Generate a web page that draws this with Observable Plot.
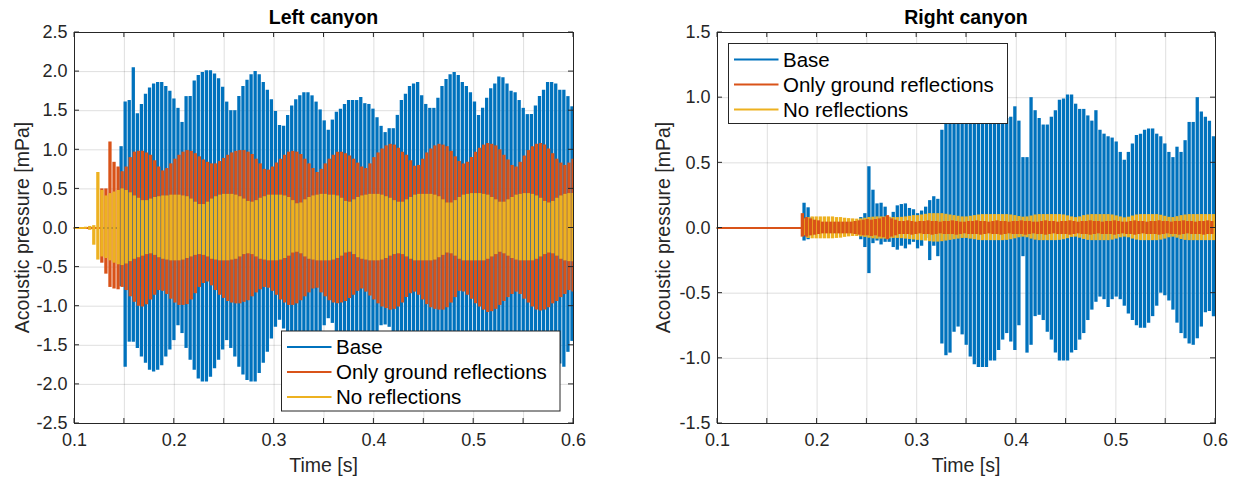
<!DOCTYPE html>
<html><head><meta charset="utf-8">
<script src="https://cdn.jsdelivr.net/npm/d3@7"></script>
<script src="https://cdn.jsdelivr.net/npm/@observablehq/plot@0.6"></script>
<style>
html,body{margin:0;padding:0;background:#fff;}
#wrap{display:flex;width:1234px;height:477px;overflow:hidden;}
#wrap svg{display:block;flex:none;}
</style></head><body><div id="wrap"></div>
<script>
// ---------- data ----------
const seriesNames = ["Base", "Only ground reflections", "No reflections"];
const xDomain = [0.1, 0.6];
const xLabelTicks = [0.1, 0.2, 0.3, 0.4, 0.5, 0.6];
const xGridTicks = [0.1, 0.15, 0.2, 0.25, 0.3, 0.35, 0.4, 0.45, 0.5, 0.55, 0.6];
const leftYTicks = [-2.5, -2, -1.5, -1, -0.5, 0, 0.5, 1, 1.5, 2, 2.5];
const rightYTicks = [-1.5, -1, -0.5, 0, 0.5, 1, 1.5];
const period = 0.00407; // one oscillation cycle [s]

// Left canyon, Base
const leftBaseStart = 0.1467;
const leftBaseHi = [1.04,1.61,1.63,2.05,1.46,1.58,1.71,1.79,1.84,1.86,
 1.86,1.81,1.75,1.65,1.53,1.35,1.68,1.68,1.88,1.95,
 1.99,2.01,2.01,1.97,1.91,1.80,1.61,1.50,1.50,1.68,
 1.81,1.89,1.96,2.00,1.96,1.86,1.76,1.64,1.49,1.31,
 1.30,1.44,1.56,1.64,1.69,1.73,1.73,1.69,1.61,1.51,
 1.37,1.25,1.38,1.48,1.52,1.58,1.63,1.63,1.63,1.67,
 1.59,1.58,1.52,1.41,1.30,1.22,1.27,1.27,1.44,1.63,
 1.71,1.81,1.84,1.86,1.69,1.58,1.53,1.53,1.66,1.81,
 1.90,1.96,1.99,1.95,1.86,1.81,1.73,1.61,1.44,1.53,
 1.66,1.78,1.84,1.93,1.92,1.84,1.75,1.73,1.63,1.53,
 1.45,1.45,1.56,1.68,1.76,1.86,1.86,1.84,1.76,1.76,
 1.68,1.55];
const leftBaseLo = [-0.75,-1.78,-1.46,-1.46,-1.54,-1.65,-1.73,-1.82,-1.84,-1.82,
 -1.76,-1.65,-1.56,-1.44,-1.25,-1.35,-1.54,-1.69,-1.82,-1.93,
 -1.97,-1.97,-1.91,-1.80,-1.69,-1.56,-1.44,-1.54,-1.65,-1.78,
 -1.88,-1.95,-1.97,-1.97,-1.86,-1.73,-1.59,-1.42,-1.27,-1.18,
 -1.29,-1.39,-1.48,-1.54,-1.61,-1.65,-1.63,-1.56,-1.48,-1.39,
 -1.25,-1.16,-1.22,-1.35,-1.45,-1.52,-1.56,-1.60,-1.62,-1.60,
 -1.56,-1.52,-1.45,-1.34,-1.25,-1.24,-1.27,-1.36,-1.52,-1.66,
 -1.74,-1.80,-1.82,-1.76,-1.62,-1.55,-1.52,-1.58,-1.72,-1.84,
 -1.92,-1.96,-1.95,-1.90,-1.82,-1.76,-1.66,-1.52,-1.48,-1.58,
 -1.70,-1.80,-1.88,-1.92,-1.88,-1.80,-1.74,-1.68,-1.58,-1.49,
 -1.44,-1.50,-1.62,-1.72,-1.80,-1.84,-1.82,-1.69,-1.74,-1.78,
 -1.59,-1.45];

// Left canyon, Only ground reflections
const leftGroundStart = 0.1274;
const leftGroundHi = [0.50,0.50,1.10,0.84,0.78,0.72,0.78,0.90,0.97,0.98,
 0.98,0.96,0.93,0.86,0.78,0.73,0.76,0.82,0.88,0.93,
 0.97,0.99,0.98,0.95,0.91,0.87,0.84,0.82,0.82,0.85,
 0.89,0.93,0.96,0.98,0.99,0.99,0.97,0.94,0.88,0.82,
 0.75,0.74,0.78,0.83,0.88,0.93,0.97,0.98,0.97,0.94,
 0.88,0.82,0.76,0.71,0.75,0.82,0.88,0.93,0.97,0.97,
 0.95,0.92,0.88,0.83,0.78,0.76,0.82,0.90,0.96,1.01,
 1.05,1.07,1.06,1.02,0.97,0.93,0.86,0.79,0.80,0.88,
 0.96,1.01,1.05,1.07,1.06,1.04,0.98,0.91,0.85,0.82,
 0.84,0.90,0.97,1.02,1.06,1.08,1.07,1.05,1.00,0.93,
 0.87,0.80,0.78,0.84,0.92,0.99,1.04,1.07,1.08,1.06,
 1.01,0.95,0.88,0.83,0.80,0.83,0.88];
const leftGroundLo = [-0.45,-0.59,-0.76,-0.78,-0.79,-0.76,-0.80,-0.88,-0.95,-1.00,
 -1.01,-0.98,-0.92,-0.86,-0.80,-0.81,-0.85,-0.91,-0.96,-0.99,
 -0.99,-0.98,-0.92,-0.84,-0.76,-0.71,-0.69,-0.74,-0.80,-0.86,
 -0.90,-0.94,-0.96,-0.97,-0.97,-0.95,-0.93,-0.88,-0.83,-0.79,
 -0.76,-0.77,-0.81,-0.86,-0.92,-0.96,-0.99,-0.99,-0.97,-0.93,
 -0.88,-0.83,-0.78,-0.77,-0.83,-0.88,-0.93,-0.96,-0.97,-0.96,
 -0.94,-0.90,-0.86,-0.81,-0.78,-0.82,-0.87,-0.92,-0.97,-1.01,
 -1.03,-1.05,-1.04,-1.01,-0.96,-0.89,-0.84,-0.82,-0.86,-0.92,
 -0.98,-1.02,-1.04,-1.05,-1.05,-1.02,-0.96,-0.89,-0.81,-0.82,
 -0.86,-0.91,-0.97,-1.01,-1.05,-1.08,-1.07,-1.04,-0.99,-0.94,
 -0.89,-0.85,-0.82,-0.85,-0.91,-0.96,-1.01,-1.05,-1.06,-1.05,
 -1.02,-0.97,-0.94,-0.89,-0.85,-0.80,-0.82];

// Left canyon, No reflections
const leftNoneStart = 0.1112;
const leftNoneHi = [0.01,0.02,0.03,
 0.71,0.48,0.41,0.44,0.46,0.48,0.50,0.48,0.45,0.41,
 0.38,0.35,0.35,0.37,0.39,0.40,0.41,0.41,0.42,0.42,
 0.42,0.41,0.40,0.37,0.33,0.30,0.30,0.33,0.37,0.40,
 0.42,0.43,0.43,0.43,0.42,0.40,0.37,0.34,0.33,0.35,
 0.38,0.40,0.42,0.42,0.42,0.42,0.41,0.39,0.35,0.31,
 0.32,0.36,0.39,0.41,0.42,0.43,0.43,0.42,0.42,0.41,
 0.38,0.34,0.33,0.36,0.39,0.41,0.42,0.43,0.43,0.43,
 0.42,0.40,0.38,0.35,0.33,0.33,0.36,0.39,0.42,0.43,
 0.43,0.43,0.43,0.42,0.40,0.36,0.32,0.32,0.35,0.39,
 0.42,0.43,0.44,0.44,0.44,0.43,0.42,0.39,0.36,0.33,
 0.33,0.36,0.39,0.42,0.43,0.44,0.44,0.43,0.41,0.38,
 0.34,0.32,0.34,0.38,0.41,0.43,0.44,0.44];
const leftNoneLo = [-0.01,-0.03,-0.22,
 -0.41,-0.37,-0.39,-0.42,-0.45,-0.47,-0.48,-0.46,-0.43,-0.40,
 -0.38,-0.36,-0.34,-0.33,-0.35,-0.38,-0.40,-0.41,-0.42,-0.42,
 -0.42,-0.41,-0.39,-0.37,-0.35,-0.34,-0.35,-0.37,-0.40,-0.41,
 -0.42,-0.42,-0.42,-0.41,-0.40,-0.37,-0.34,-0.33,-0.34,-0.37,
 -0.40,-0.41,-0.42,-0.42,-0.42,-0.41,-0.39,-0.36,-0.32,-0.31,
 -0.33,-0.37,-0.40,-0.41,-0.42,-0.42,-0.42,-0.42,-0.41,-0.39,
 -0.36,-0.32,-0.31,-0.34,-0.38,-0.40,-0.41,-0.42,-0.42,-0.42,
 -0.41,-0.39,-0.36,-0.34,-0.33,-0.34,-0.37,-0.40,-0.42,-0.42,
 -0.42,-0.42,-0.42,-0.41,-0.38,-0.35,-0.32,-0.33,-0.36,-0.40,
 -0.42,-0.42,-0.42,-0.42,-0.42,-0.42,-0.40,-0.37,-0.34,-0.31,
 -0.33,-0.36,-0.39,-0.41,-0.42,-0.42,-0.42,-0.42,-0.40,-0.37,
 -0.34,-0.32,-0.33,-0.36,-0.40,-0.42,-0.43,-0.43];

// Right canyon, Base
const rightBaseStart = 0.1869;
const rightBaseHi = [0.19,0.155,0.08,0.04,0.04,0.04,0.04,0.04,0.04,0.04,
 0.04,0.04,0.04,0.04,0.08,0.11,0.47,0.29,0.185,0.19,
 0.16,0.08,0.12,0.17,0.18,0.185,0.15,0.14,0.11,0.13,
 0.16,0.21,0.24,0.22,0.75,0.92,0.95,0.90,0.82,0.80,
 0.86,0.94,1.00,1.04,1.05,1.05,1.03,1.00,0.97,0.90,
 0.84,0.85,0.93,0.82,0.54,0.54,1.00,0.90,0.84,0.79,
 0.79,0.85,0.90,0.98,0.99,1.02,1.02,0.95,0.91,0.91,
 0.86,0.82,0.90,0.75,0.72,0.70,0.69,0.66,0.58,0.52,
 0.58,0.645,0.71,0.72,0.75,0.76,0.76,0.72,0.70,0.645,
 0.58,0.54,0.62,0.58,0.67,0.81,0.81,1.00,0.89,0.85,
 0.82,0.70];
const rightBaseLo = [-0.10,-0.09,-0.06,-0.04,-0.04,-0.04,-0.04,-0.04,-0.04,-0.04,
 -0.04,-0.04,-0.04,-0.04,-0.09,-0.15,-0.35,-0.12,-0.10,-0.13,
 -0.11,-0.11,-0.15,-0.17,-0.14,-0.16,-0.13,-0.11,-0.16,-0.14,
 -0.08,-0.25,-0.14,-0.22,-0.89,-0.98,-0.96,-0.80,-0.76,-0.82,
 -0.90,-0.99,-1.05,-1.07,-1.07,-1.07,-1.02,-1.02,-0.94,-0.86,
 -0.81,-0.875,-0.94,-0.75,-0.22,-0.96,-0.90,-0.68,-0.67,-0.71,
 -0.80,-0.86,-0.96,-1.02,-1.02,-1.02,-0.96,-0.94,-0.86,-0.81,
 -0.71,-0.63,-0.57,-0.53,-0.55,-0.61,-0.55,-0.53,-0.55,-0.60,
 -0.66,-0.71,-0.75,-0.77,-0.77,-0.73,-0.68,-0.60,-0.50,-0.52,
 -0.56,-0.63,-0.73,-0.81,-0.85,-0.89,-0.90,-0.85,-0.76,-0.65,
 -0.64,-0.68];

// Right canyon, Only ground reflections
const rightGroundStart = 0.1852;
const rightGroundHi = [0.11,0.08,0.07,0.06,0.055,0.045,0.045,0.045,0.045,0.045,
 0.045,0.045,0.045,0.05,0.055,0.06,0.065,0.06,0.065,0.07,
 0.08,0.095,0.07,0.06,0.05,0.05,0.055,0.05,0.045,0.05,
 0.05,0.055,0.05,0.05,0.045,0.05,0.05,0.055,0.05,0.045,
 0.045,0.05,0.05,0.055,0.05,0.05,0.045,0.05,0.055,0.05,
 0.05,0.045,0.05,0.05,0.055,0.05,0.05,0.045,0.045,0.05,
 0.055,0.05,0.05,0.045,0.05,0.05,0.055,0.05,0.045,0.05,
 0.05,0.055,0.05,0.05,0.045,0.05,0.05,0.055,0.05,0.045,
 0.045,0.05,0.055,0.05,0.05,0.045,0.05,0.05,0.055,0.05,
 0.05,0.045,0.05,0.05,0.055,0.05,0.05,0.045,0.05,0.05,
 0.055,0.05];
const rightGroundLo = [-0.07,-0.07,-0.06,-0.055,-0.05,-0.045,-0.045,-0.045,-0.045,-0.045,
 -0.045,-0.045,-0.045,-0.05,-0.055,-0.06,-0.06,-0.065,-0.06,-0.07,
 -0.075,-0.09,-0.07,-0.06,-0.05,-0.05,-0.05,-0.055,-0.05,-0.045,
 -0.05,-0.05,-0.055,-0.05,-0.045,-0.05,-0.05,-0.05,-0.055,-0.05,
 -0.045,-0.05,-0.05,-0.05,-0.055,-0.05,-0.045,-0.05,-0.05,-0.055,
 -0.05,-0.045,-0.05,-0.05,-0.05,-0.055,-0.05,-0.045,-0.05,-0.05,
 -0.055,-0.05,-0.045,-0.05,-0.05,-0.05,-0.055,-0.05,-0.045,-0.05,
 -0.05,-0.055,-0.05,-0.045,-0.05,-0.05,-0.05,-0.055,-0.05,-0.045,
 -0.05,-0.05,-0.055,-0.05,-0.045,-0.05,-0.05,-0.05,-0.055,-0.05,
 -0.045,-0.05,-0.05,-0.055,-0.05,-0.045,-0.05,-0.05,-0.05,-0.055,
 -0.05,-0.05];

// Right canyon, No reflections
const rightNoneStart = 0.1869;
const rightNoneHi = [0.07,0.08,0.085,0.085,0.085,0.085,0.085,0.085,0.08,0.08,
 0.075,0.072,0.07,0.068,0.07,0.075,0.08,0.083,0.085,0.085,
 0.085,0.083,0.08,0.08,0.082,0.085,0.09,0.095,0.095,0.10,
 0.105,0.11,0.11,0.11,0.11,0.105,0.10,0.095,0.09,0.085,
 0.085,0.09,0.095,0.10,0.103,0.103,0.103,0.103,0.103,0.103,
 0.103,0.10,0.095,0.088,0.083,0.085,0.092,0.10,0.103,0.103,
 0.103,0.103,0.103,0.103,0.10,0.093,0.085,0.08,0.085,0.095,
 0.10,0.103,0.103,0.103,0.103,0.103,0.10,0.093,0.085,0.078,
 0.083,0.092,0.10,0.103,0.103,0.103,0.103,0.103,0.098,0.09,
 0.082,0.08,0.087,0.095,0.10,0.103,0.103,0.103,0.103,0.103,
 0.103,0.103];
const rightNoneLo = [-0.06,-0.08,-0.083,-0.083,-0.083,-0.083,-0.083,-0.083,-0.08,-0.078,
 -0.072,-0.068,-0.065,-0.065,-0.068,-0.072,-0.078,-0.083,-0.085,-0.085,
 -0.085,-0.083,-0.08,-0.08,-0.082,-0.085,-0.088,-0.092,-0.095,-0.098,
 -0.10,-0.105,-0.108,-0.108,-0.105,-0.10,-0.095,-0.09,-0.085,-0.08,
 -0.08,-0.085,-0.09,-0.095,-0.097,-0.097,-0.097,-0.097,-0.097,-0.097,
 -0.095,-0.09,-0.083,-0.075,-0.07,-0.075,-0.085,-0.093,-0.097,-0.097,
 -0.097,-0.097,-0.097,-0.095,-0.09,-0.082,-0.072,-0.07,-0.078,-0.088,
 -0.095,-0.097,-0.097,-0.097,-0.097,-0.097,-0.093,-0.085,-0.075,-0.07,
 -0.075,-0.085,-0.093,-0.097,-0.097,-0.097,-0.097,-0.097,-0.093,-0.085,
 -0.075,-0.07,-0.078,-0.088,-0.095,-0.097,-0.097,-0.097,-0.097,-0.097,
 -0.097,-0.097];

// ---------- rendering ----------
const colors = {base: "#0072BD", ground: "#D95319", none: "#EDB120"};
const legendKeys = ["base", "ground", "none"];
const axisColor = "#262626";
const fontFamily = "'Liberation Sans', Arial, Helvetica, sans-serif";

function cycles(start, hi, lo) {
  return hi.map((h, i) => ({t: start + i * period, hi: h, lo: lo[i]}));
}

function panel(cfg) {
  const {title, yDomain, yTicks, series, drawOrder, width, height,
         marginLeft, marginRight, marginTop, marginBottom, yLabelX, legend} = cfg;
  const marks = [
    Plot.ruleX(xGridTicks, {stroke: axisColor, strokeOpacity: 0.15}),
    Plot.ruleY(yTicks, {stroke: axisColor, strokeOpacity: 0.15})
  ];
  for (const key of drawOrder) {
    const s = series[key];
    marks.push(Plot.line([{t: xDomain[0], v: 0}, {t: s.start, v: 0}],
      {x: "t", y: "v", stroke: colors[key], strokeWidth: 2}));
    marks.push(Plot.ruleX(cycles(s.start, s.hi, s.lo),
      {x: "t", y1: "lo", y2: "hi", stroke: colors[key], strokeWidth: 3.3, clip: true}));
  }
  marks.push(Plot.frame({stroke: axisColor, strokeWidth: 1}));

  const fmt = d => d.toFixed(1);
  const el = Plot.plot({
    width, height, marginLeft, marginRight, marginTop, marginBottom,
    style: {fontFamily, fontSize: "18px", color: axisColor, background: "white", overflow: "visible"},
    x: {domain: xDomain, ticks: xLabelTicks, tickFormat: fmt, tickSize: 0, tickPadding: 10, label: null},
    y: {domain: yDomain, ticks: yTicks, tickFormat: fmt, tickSize: 0, tickPadding: 7, label: null},
    marks
  });

  const svg = d3.select(el);
  const sx = el.scale("x"), sy = el.scale("y");
  const x0 = marginLeft, x1 = width - marginRight, y0 = marginTop, y1 = height - marginBottom;

  // inward ticks on all four sides (MATLAB box style)
  const tg = svg.append("g").attr("stroke", axisColor).attr("stroke-width", 1);
  for (const v of xGridTicks) {
    const x = sx.apply(v);
    tg.append("line").attr("x1", x).attr("x2", x).attr("y1", y1).attr("y2", y1 - 5);
    tg.append("line").attr("x1", x).attr("x2", x).attr("y1", y0).attr("y2", y0 + 5);
  }
  for (const v of yTicks) {
    const y = sy.apply(v);
    tg.append("line").attr("x1", x0).attr("x2", x0 + 5).attr("y1", y).attr("y2", y);
    tg.append("line").attr("x1", x1).attr("x2", x1 - 5).attr("y1", y).attr("y2", y);
  }

  // title and axis labels
  svg.append("text").attr("x", (x0 + x1) / 2).attr("y", 24)
    .attr("text-anchor", "middle").attr("font-weight", "bold").attr("font-size", 19.5)
    .attr("font-family", fontFamily).attr("fill", "#000").text(title);
  svg.append("text").attr("x", (x0 + x1) / 2).attr("y", 472)
    .attr("text-anchor", "middle").attr("font-size", 19.5)
    .attr("font-family", fontFamily).attr("fill", axisColor).text("Time [s]");
  svg.append("text").attr("transform", `translate(${yLabelX},${(y0 + y1) / 2}) rotate(-90)`)
    .attr("text-anchor", "middle").attr("dy", "0.35em").attr("font-size", 19.5)
    .attr("font-family", fontFamily).attr("fill", axisColor).text("Acoustic pressure [mPa]");

  // legend box
  const lg = svg.append("g");
  lg.append("rect").attr("x", legend.x).attr("y", legend.y).attr("width", legend.w).attr("height", legend.h)
    .attr("fill", "white").attr("stroke", axisColor).attr("stroke-width", 1);
  legendKeys.forEach((key, i) => {
    const cy = legend.y + 16 + i * 25;
    lg.append("line").attr("x1", legend.x + 5.5).attr("x2", legend.x + 50).attr("y1", cy).attr("y2", cy)
      .attr("stroke", colors[key]).attr("stroke-width", 2);
    lg.append("text").attr("x", legend.x + 54.5).attr("y", cy).attr("dy", "0.35em")
      .attr("text-anchor", "start")
      .attr("font-size", 20.5).attr("font-family", fontFamily).attr("fill", "#000").text(seriesNames[i]);
  });
  return el;
}

const wrap = document.getElementById("wrap");
wrap.appendChild(panel({
  title: "Left canyon", yDomain: [-2.5, 2.5], yTicks: leftYTicks,
  series: {
    base: {start: leftBaseStart, hi: leftBaseHi, lo: leftBaseLo},
    ground: {start: leftGroundStart, hi: leftGroundHi, lo: leftGroundLo},
    none: {start: leftNoneStart, hi: leftNoneHi, lo: leftNoneLo}
  },
  drawOrder: ["base", "ground", "none"],
  width: 617, height: 477, marginLeft: 74, marginRight: 44, marginTop: 32, marginBottom: 54,
  yLabelX: 22,
  legend: {x: 281.5, y: 331, w: 278.5, h: 80}
}));
wrap.appendChild(panel({
  title: "Right canyon", yDomain: [-1.5, 1.5], yTicks: rightYTicks,
  series: {
    base: {start: rightBaseStart, hi: rightBaseHi, lo: rightBaseLo},
    ground: {start: rightGroundStart, hi: rightGroundHi, lo: rightGroundLo},
    none: {start: rightNoneStart, hi: rightNoneHi, lo: rightNoneLo}
  },
  drawOrder: ["base", "none", "ground"],
  width: 617, height: 477, marginLeft: 100, marginRight: 19, marginTop: 32, marginBottom: 54,
  yLabelX: 46,
  legend: {x: 111.5, y: 43.5, w: 279, h: 80}
}));
</script>
</body></html>
